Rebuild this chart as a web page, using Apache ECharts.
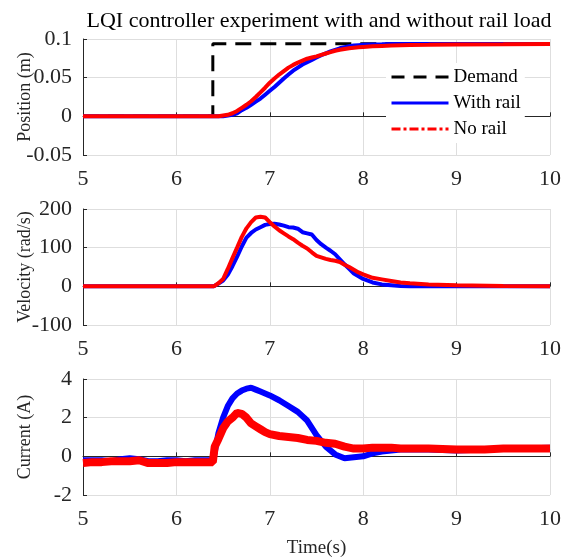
<!DOCTYPE html>
<html>
<head>
<meta charset="utf-8">
<script src="https://cdn.jsdelivr.net/npm/echarts@6/dist/echarts.min.js"></script>
<style>html,body{margin:0;padding:0;background:#fff}#c{width:569px;height:560px}</style>
</head>
<body>
<div id="c"></div>
<script>
// ---- data ----
const xTicks = [5, 6, 7, 8, 9, 10];
const posTicks = [-0.05, 0, 0.05, 0.1];
const velTicks = [-100, 0, 100, 200];
const curTicks = [-2, 0, 2, 4];

const demandTime = [5.0, 6.39, 6.39, 10.0];
const demandPos = [0, 0, 0.094, 0.094];

const tPV = [5.0, 6.0, 6.4, 6.45, 6.5, 6.55, 6.6, 6.65, 6.7, 6.75, 6.8, 6.85, 6.9, 6.95, 7.0, 7.05, 7.1, 7.15, 7.2, 7.25, 7.3, 7.35, 7.4, 7.45, 7.5, 7.55, 7.6, 7.65, 7.7, 7.75, 7.8, 7.85, 7.9, 7.95, 8.0, 8.1, 8.2, 8.3, 8.4, 8.5, 8.7, 9.0, 9.5, 10.0];

const posWithRail = [0, 0, 0, 0, 0, 0.001, 0.002, 0.004, 0.008, 0.011, 0.015, 0.019, 0.023, 0.028, 0.033, 0.038, 0.0435, 0.049, 0.054, 0.059, 0.063, 0.067, 0.070, 0.073, 0.076, 0.079, 0.0815, 0.084, 0.086, 0.088, 0.0895, 0.0905, 0.0915, 0.092, 0.0925, 0.093, 0.0932, 0.0935, 0.0935, 0.0935, 0.0935, 0.0935, 0.0935, 0.0935];
const posNoRail = [0, 0, 0, 0, 0.001, 0.002, 0.004, 0.007, 0.011, 0.015, 0.0195, 0.025, 0.031, 0.037, 0.0435, 0.049, 0.054, 0.0585, 0.063, 0.0665, 0.0695, 0.072, 0.0745, 0.076, 0.0775, 0.0795, 0.0813, 0.083, 0.0848, 0.086, 0.087, 0.088, 0.0887, 0.0892, 0.0897, 0.0905, 0.091, 0.0915, 0.092, 0.0922, 0.0925, 0.093, 0.0932, 0.0935];

const velWithRail = [0, 0, 0, 7, 15, 30, 52, 77, 103, 126, 138, 147, 153, 159, 161, 162, 160, 157, 153, 152, 149, 140, 137, 134, 120, 109, 100, 92, 83, 70, 57, 45, 33, 26, 19, 10, 5, 3, 1, 0, 0, 0, 0, 0];
const velNoRail = [0, 0, 0, 8, 19, 45, 73, 100, 128, 150, 166, 178, 180, 178, 166, 155, 145, 137, 129, 122, 113, 105, 98, 88, 79, 75, 71, 68, 66, 63, 56, 50, 43, 36, 31, 22, 18, 14, 10, 8, 5, 3, 1, 0];

const tCur = [5.0, 5.1, 5.2, 5.3, 5.4, 5.5, 5.6, 5.7, 5.8, 5.9, 6.0, 6.1, 6.2, 6.3, 6.39, 6.41, 6.45, 6.5, 6.55, 6.6, 6.65, 6.7, 6.75, 6.8, 6.85, 6.9, 6.95, 7.0, 7.1, 7.2, 7.3, 7.4, 7.5, 7.55, 7.6, 7.7, 7.8, 7.9, 8.0, 8.1, 8.2, 8.3, 8.4, 8.5, 8.7, 9.0, 9.3, 9.5, 9.7, 10.0];
const curWithRail = [-0.2, -0.2, -0.2, -0.25, -0.15, -0.1, -0.15, -0.25, -0.25, -0.2, -0.2, -0.25, -0.2, -0.2, -0.2, 0.2, 1.2, 2.0, 2.6, 3.0, 3.25, 3.4, 3.5, 3.55, 3.45, 3.35, 3.25, 3.15, 2.9, 2.6, 2.3, 1.85, 1.1, 0.8, 0.5, 0.1, -0.1, -0.05, 0.0, 0.15, 0.25, 0.3, 0.35, 0.35, 0.35, 0.3, 0.35, 0.4, 0.4, 0.45];
const curNoRail = [-0.35, -0.3, -0.3, -0.25, -0.25, -0.25, -0.2, -0.35, -0.35, -0.35, -0.3, -0.3, -0.3, -0.3, -0.3, 0.5, 0.9, 1.45, 1.8, 2.0, 2.25, 2.2, 2.0, 1.7, 1.55, 1.4, 1.25, 1.15, 1.05, 1.0, 0.95, 0.85, 0.8, 0.75, 0.7, 0.65, 0.5, 0.4, 0.4, 0.45, 0.45, 0.45, 0.4, 0.4, 0.4, 0.35, 0.35, 0.4, 0.4, 0.4];

const names = ['Demand', 'With rail', 'No rail'];

// ---- chart ----
const pair = (t, v) => t.map((x, i) => [x, v[i]]);
const FONT = 'Liberation Serif';
const TXT = '#262626';
const gridBase = { left: 83, right: 19, height: 116, containLabel: false, outerBoundsMode: 'none' };
const grids = [
  Object.assign({ top: 39 }, gridBase),
  Object.assign({ top: 209 }, gridBase),
  Object.assign({ top: 379 }, gridBase)
];
function xAxis(i) {
  return {
    type: 'value', gridIndex: i, min: 5, max: 10, interval: 1,
    axisLine: { show: true, lineStyle: { color: TXT, width: 1 } },
    axisTick: { show: true, inside: true, length: 4, lineStyle: { color: TXT } },
    splitLine: { show: true, lineStyle: { color: '#dedede', width: 1 } },
    axisLabel: { fontFamily: FONT, fontSize: 22, color: TXT, margin: 13,
      formatter: v => xTicks.includes(v) ? String(v) : '' },
    name: i === 2 ? 'Time(s)' : '', nameLocation: 'middle', nameGap: 44, nameMoveOverlap: false,
    nameTextStyle: { fontFamily: FONT, fontSize: 19, color: TXT }
  };
}
function yAxis(i, min, max, interval, ticks, name) {
  return {
    type: 'value', gridIndex: i, min: min, max: max, interval: interval,
    axisLine: { show: true, lineStyle: { color: TXT, width: 1 } },
    axisTick: { show: true, inside: true, length: 4, lineStyle: { color: TXT } },
    splitLine: { show: true, lineStyle: { color: '#dedede', width: 1 } },
    axisLabel: { fontFamily: FONT, fontSize: 22, color: TXT, margin: 11,
      formatter: v => { const t = ticks.find(k => Math.abs(k - v) < 1e-9); return t === undefined ? '' : String(t); } },
    name: name, nameLocation: 'middle', nameGap: 49, nameMoveOverlap: false,
    nameTextStyle: { fontFamily: FONT, fontSize: 18, color: TXT }
  };
}
const base = { type: 'line', symbol: 'none', animation: false, silent: true };
const option = {
  backgroundColor: '#fff',
  animation: false,
  title: { text: 'LQI controller experiment with and without rail load', left: 314, textAlign: 'center', top: 5,
    textStyle: { fontFamily: FONT, fontSize: 22, fontWeight: 'normal', color: '#000' } },
  legend: {
    orient: 'vertical', left: 386, top: 63, padding: [4, 4, 4, 4],
    backgroundColor: '#fff', itemWidth: 57, itemHeight: 14, itemGap: 6,
    itemStyle: { opacity: 0 },
    textStyle: { fontFamily: FONT, fontSize: 19, color: '#000', lineHeight: 20 },
    data: [
      { name: names[0], lineStyle: { type: [13, 9], width: 3 }, itemStyle: { opacity: 0 } },
      { name: names[1], lineStyle: { type: 'solid', width: 3 }, itemStyle: { opacity: 0 } },
      { name: names[2], lineStyle: { type: [9, 3, 3, 3], width: 3 }, itemStyle: { opacity: 0 } }
    ],
    z: 10
  },
  grid: grids,
  xAxis: [xAxis(0), xAxis(1), xAxis(2)],
  yAxis: [
    yAxis(0, -0.05, 0.1, 0.05, posTicks, 'Position (m)'),
    yAxis(1, -100, 200, 100, velTicks, 'Velocity (rad/s)'),
    yAxis(2, -2, 4, 2, curTicks, 'Current (A)')
  ],
  series: [
    Object.assign({}, base, { name: names[0], xAxisIndex: 0, yAxisIndex: 0, data: pair(demandTime, demandPos),
      lineStyle: { color: '#000', width: 3, type: [16, 9] }, itemStyle: { color: '#000' } }),
    Object.assign({}, base, { name: names[1], xAxisIndex: 0, yAxisIndex: 0, data: pair(tPV, posWithRail),
      lineStyle: { color: '#0000ff', width: 4 }, itemStyle: { color: '#0000ff' } }),
    Object.assign({}, base, { name: names[2], xAxisIndex: 0, yAxisIndex: 0, data: pair(tPV, posNoRail),
      lineStyle: { color: '#ff0000', width: 4 }, itemStyle: { color: '#ff0000' } }),
    Object.assign({}, base, { name: names[1], xAxisIndex: 1, yAxisIndex: 1, data: pair(tPV, velWithRail),
      lineStyle: { color: '#0000ff', width: 4 }, itemStyle: { color: '#0000ff' } }),
    Object.assign({}, base, { name: names[2], xAxisIndex: 1, yAxisIndex: 1, data: pair(tPV, velNoRail),
      lineStyle: { color: '#ff0000', width: 4 }, itemStyle: { color: '#ff0000' } }),
    Object.assign({}, base, { name: names[1], xAxisIndex: 2, yAxisIndex: 2, data: pair(tCur, curWithRail),
      lineStyle: { color: '#0000ff', width: 6 }, itemStyle: { color: '#0000ff' } }),
    Object.assign({}, base, { name: names[2], xAxisIndex: 2, yAxisIndex: 2, data: pair(tCur, curNoRail),
      lineStyle: { color: '#ff0000', width: 8 }, itemStyle: { color: '#ff0000' } })
  ]
};
const chart = echarts.init(document.getElementById('c'), null, { renderer: 'canvas' });
chart.setOption(option);
</script>
</body>
</html>
